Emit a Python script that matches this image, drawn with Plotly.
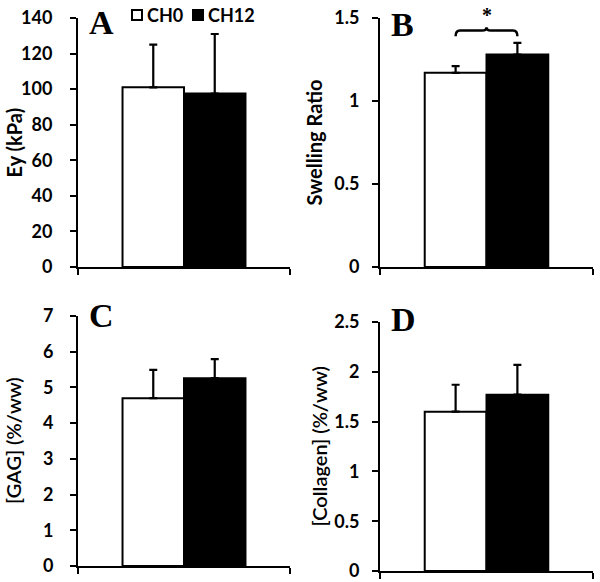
import plotly.graph_objects as go

groups = ["CH0", "CH12"]
ey_mean = [101, 97.5]
ey_err = [24, 33.5]
swell_mean = [1.17, 1.28]
swell_err = [0.04, 0.07]
gag_mean = [4.70, 5.26]
gag_err = [0.79, 0.53]
col_mean = [1.60, 1.77]
col_err = [0.27, 0.30]

panels = [
    dict(letter="A", title="Ey (kPa)", mean=ey_mean, err=ey_err, ymax=140, dtick=20, bold=True),
    dict(letter="B", title="Swelling Ratio", mean=swell_mean, err=swell_err, ymax=1.5, dtick=0.5, bold=True),
    dict(letter="C", title="[GAG] (%/ww)", mean=gag_mean, err=gag_err, ymax=7, dtick=1, bold=False),
    dict(letter="D", title="[Collagen] (%/ww)", mean=col_mean, err=col_err, ymax=2.5, dtick=0.5, bold=False),
]

W, H = 600, 582
# pixel boxes (left, right, top, bottom)
boxes = [(78, 290, 18, 267), (380, 593, 18, 267), (78, 290, 316, 566), (380, 593, 322, 571)]
letter_top = [2, 4, 295, 299]
label_standoff = [14, 9, 13, 9]
title_x = [13, 313, 13, 318]

fills = ["white", "black"]
BW = 0.29
offsets = [-BW, 0.0]

fig = go.Figure()
FONT = "Lato"
for i, p in enumerate(panels):
    n = "" if i == 0 else str(i + 1)
    for j, g in enumerate(groups):
        fig.add_trace(go.Bar(
            x=[0], y=[p["mean"][j]], width=[BW], offset=[offsets[j]],
            name=g, legendgroup=g, showlegend=False,
            marker=dict(color=fills[j], line=dict(color="black", width=2)),
            error_y=dict(type="data", array=[p["err"][j]], arrayminus=[0], symmetric=False,
                         color="black", thickness=2.2, width=4),
            xaxis="x" + n, yaxis="y" + n,
        ))
    l, r, t, b = boxes[i]
    xd = [l / W, r / W]
    yd = [1 - b / H, 1 - t / H]
    fig.layout["xaxis" + n] = dict(
        domain=xd, range=[-0.5, 0.5], tickvals=[-0.5, 0.5], showticklabels=False,
        ticks="outside", ticklen=6, tickwidth=2, tickcolor="black",
        showline=True, linewidth=2, linecolor="black", showgrid=False, zeroline=False,
        anchor="y" + n, fixedrange=True, automargin=False)
    fig.layout["yaxis" + n] = dict(
        domain=yd, range=[0, p["ymax"]], dtick=p["dtick"], tick0=0,
        ticks="outside", ticklen=6, tickwidth=2, tickcolor="black",
        showline=True, linewidth=2, linecolor="black", showgrid=False, zeroline=False,
        tickfont=dict(family=FONT, size=18, color="black", weight="bold"),
        ticklabelstandoff=label_standoff[i],
        anchor="x" + n, fixedrange=True, automargin=False)
    # panel letter
    fig.add_annotation(text="<b>%s</b>" % p["letter"], xref="paper", yref="paper",
                       x=(l + 9) / W, y=1 - letter_top[i] / H, xanchor="left", yanchor="top",
                       showarrow=False,
                       font=dict(family="Liberation Serif", size=34, color="black"))
    # y title
    ttl = "<b>%s</b>" % p["title"] if p["bold"] else p["title"]
    fig.add_annotation(text=ttl, xref="paper", yref="paper", textangle=-90,
                       x=title_x[i] / W, y=1 - ((t + b) / 2) / H, xanchor="center", yanchor="middle",
                       showarrow=False,
                       font=dict(family=FONT, size=20, color="black",
                                 weight=("bold" if p["bold"] else 600)))

# legend (drawn manually to match the compact layout)
leg_y = 15
for j, (g, x0, tx) in enumerate(zip(groups, [132, 193], [145, 206])):
    fig.add_shape(type="rect", xref="paper", yref="paper",
                  x0=x0 / W, x1=(x0 + 10) / W, y0=1 - (leg_y + 5) / H, y1=1 - (leg_y - 5) / H,
                  line=dict(color="black", width=2), fillcolor=fills[j])
    fig.add_annotation(text="<b>%s</b>" % g, xref="paper", yref="paper",
                       x=tx / W, y=1 - leg_y / H, xanchor="left", yanchor="middle",
                       showarrow=False, font=dict(family=FONT, size=18, color="black"))

# significance bracket on panel B
cx0 = offsets[0] + BW / 2
cx1 = offsets[1] + BW / 2
ytop = max(m + e for m, e in zip(swell_mean, swell_err)) + 0.075
drop = 0.035
dx = 0.02
xm = (cx0 + cx1) / 2
path = (f"M {cx0},{ytop - drop} Q {cx0},{ytop} {cx0 + dx},{ytop} L {xm - dx},{ytop} "
        f"Q {xm},{ytop} {xm},{ytop + 0.02} Q {xm},{ytop} {xm + dx},{ytop} "
        f"L {cx1 - dx},{ytop} Q {cx1},{ytop} {cx1},{ytop - drop}")
fig.add_shape(type="path", path=path, xref="x2", yref="y2",
              line=dict(color="black", width=2.5))
fig.add_annotation(text="<b>*</b>", x=xm, y=ytop + 0.015, xref="x2", yref="y2",
                   yanchor="bottom", showarrow=False,
                   font=dict(family="Liberation Serif", size=20, color="black"))

fig.update_layout(
    width=W, height=H, margin=dict(l=0, r=0, t=0, b=0, pad=0, autoexpand=False),
    paper_bgcolor="white", plot_bgcolor="white", barmode="overlay",
    showlegend=False,
)

fig.write_html("out.html", post_script="document.body.style.margin='0';",
               config={"displayModeBar": False})
